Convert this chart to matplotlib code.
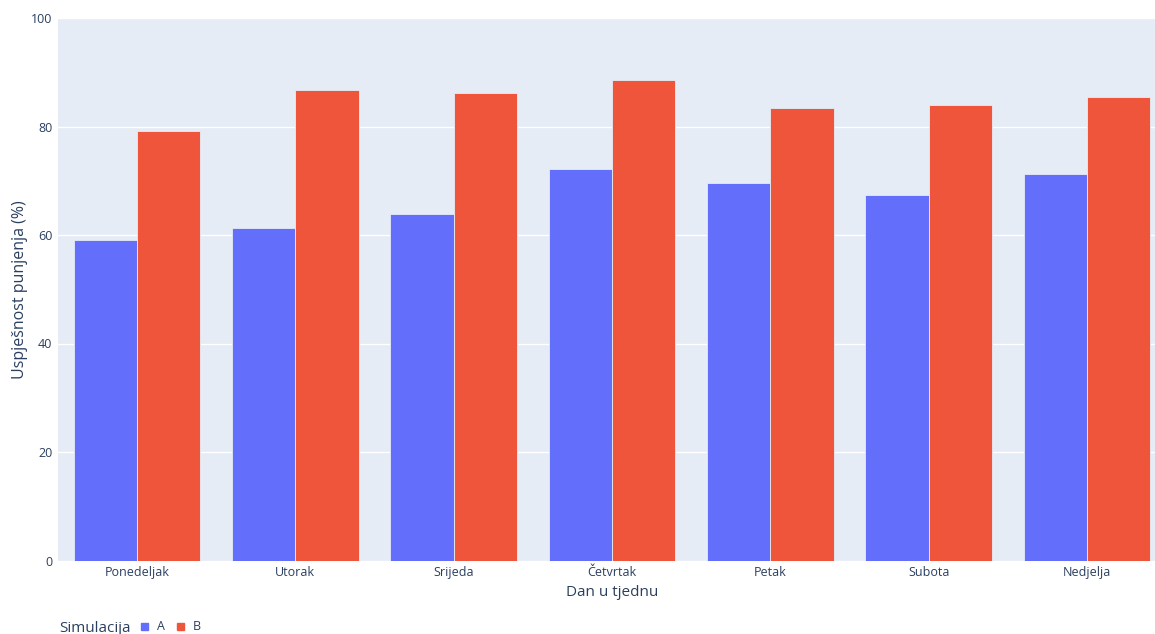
import numpy as np
import matplotlib
matplotlib.use("Agg")
from matplotlib import pyplot as plt
from matplotlib.patches import Rectangle

days = ["Ponedeljak", "Utorak", "Srijeda", "Četvrtak", "Petak", "Subota", "Nedjelja"]
sim_a = [59.1, 61.2, 63.8, 72.1, 69.5, 67.4, 71.2]
sim_b = [79.1, 86.8, 86.1, 88.6, 83.4, 83.9, 85.4]
y_ticks = [0, 20, 40, 60, 80, 100]

txt = "#2a3f5f"
col_a = "#636efa"
col_b = "#ef553b"

plt.rcParams['font.family'] = ['Open Sans', 'DejaVu Sans']

W, H = 1155, 634
fig = plt.figure(figsize=(W / 100, H / 100), dpi=100)
# plot area runs a little past the right edge of the figure, as in the original
ax = fig.add_axes([58 / W, (H - 560.5) / H, 1108 / W, 542.5 / H])
ax.set_facecolor("#e5ecf6")

x = np.arange(len(days))
w = 0.4
ax.bar(x - w / 2, sim_a, w, color=col_a, edgecolor="#e5ecf6", linewidth=0.6, zorder=3)
ax.bar(x + w / 2, sim_b, w, color=col_b, edgecolor="#e5ecf6", linewidth=0.6, zorder=3)

ax.set_xlim(-0.5, len(days) - 0.5)
ax.set_ylim(0, 100)
ax.set_yticks(y_ticks)
ax.set_xticks(x)
ax.set_xticklabels(days)
ax.grid(axis="y", color="white", linewidth=1, zorder=0)
ax.set_axisbelow(True)
for s in ax.spines.values():
    s.set_visible(False)
ax.tick_params(axis="both", length=0, labelsize=9, labelcolor=txt)
ax.tick_params(axis="y", pad=4)
ax.tick_params(axis="x", pad=4)

ax.set_xlabel("Dan u tjednu", fontsize=11, color=txt, labelpad=4)
ax.set_ylabel("Uspješnost punjenja (%)", fontsize=11.5, color=txt, labelpad=2)

# legend at bottom, plotly style
fig.text(59 / W, 1 - 628 / H, "Simulacija", fontsize=11, color=txt, va="center", ha="left")
for lab, col, px in [("A", col_a, 141), ("B", col_b, 177)]:
    fig.patches.append(Rectangle((px / W, 1 - 630 / H), 7 / W, 7 / H,
                                 transform=fig.transFigure, color=col))
    fig.text((px + 16) / W, 1 - 626 / H, lab, fontsize=9, color=txt, va="center", ha="left")

fig.savefig("out.png", dpi=100)
